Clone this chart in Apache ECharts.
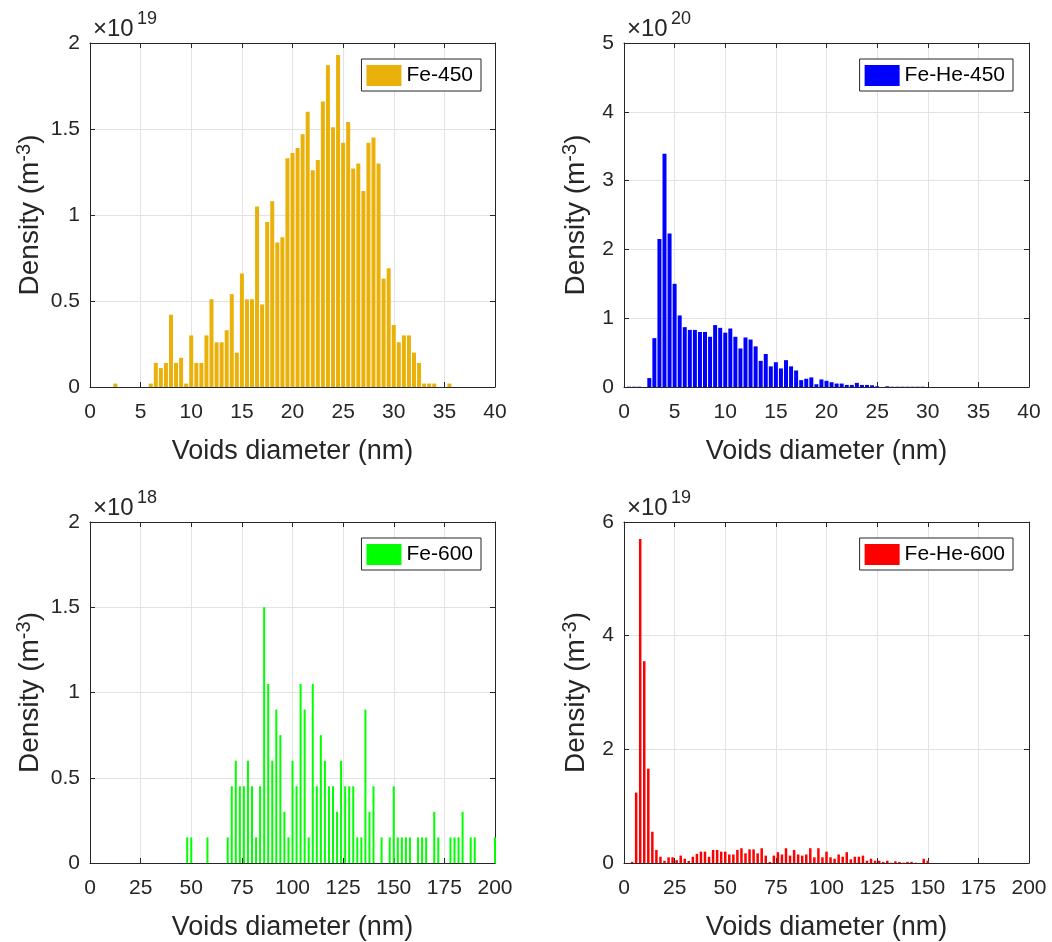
<!DOCTYPE html>
<html>
<head>
<meta charset="utf-8">
<script src="https://cdn.jsdelivr.net/npm/echarts@6/dist/echarts.min.js"></script>
<style>
html,body{margin:0;padding:0;background:#fff;}
#chart{width:1052px;height:942px;}
</style>
</head>
<body>
<div id="chart"></div>
<script>
// ---- Data (densities shown in the axis multiplier units) ----
const fe450X = [2.5, 6, 6.5, 7, 7.5, 8, 8.5, 9, 9.5, 10, 10.5, 11, 11.5, 12, 12.5, 13, 13.5, 14, 14.5, 15, 15.5, 16, 16.5, 17, 17.5, 18, 18.5, 19, 19.5, 20, 20.5, 21, 21.5, 22, 22.5, 23, 23.5, 24, 24.5, 25, 25.5, 26, 26.5, 27, 27.5, 28, 28.5, 29, 29.5, 30, 30.5, 31, 31.5, 32, 32.5, 33, 33.5, 34, 35.5];
const fe450Y = [0.02, 0.02, 0.14, 0.11, 0.14, 0.42, 0.14, 0.17, 0.02, 0.30, 0.14, 0.14, 0.30, 0.51, 0.26, 0.26, 0.33, 0.54, 0.20, 0.66, 0.51, 0.51, 1.05, 0.48, 0.96, 1.08, 0.84, 0.87, 1.33, 1.36, 1.39, 1.47, 1.60, 1.26, 1.32, 1.66, 1.87, 1.51, 1.93, 1.42, 1.54, 1.27, 1.30, 1.14, 1.42, 1.45, 1.30, 0.63, 0.69, 0.36, 0.26, 0.30, 0.30, 0.20, 0.14, 0.02, 0.02, 0.02, 0.02];

const feHe450X = [0.5, 1, 1.5, 2.5, 3, 3.5, 4, 4.5, 5, 5.5, 6, 6.5, 7, 7.5, 8, 8.5, 9, 9.5, 10, 10.5, 11, 11.5, 12, 12.5, 13, 13.5, 14, 14.5, 15, 15.5, 16, 16.5, 17, 17.5, 18, 18.5, 19, 19.5, 20, 20.5, 21, 21.5, 22, 22.5, 23, 23.5, 24, 24.5, 25, 26, 26.5, 27, 27.5, 28, 28.5, 29, 29.5];
const feHe450Y = [0.004, 0.004, 0.004, 0.13, 0.71, 2.15, 3.39, 2.23, 1.50, 1.04, 0.87, 0.83, 0.83, 0.80, 0.80, 0.73, 0.90, 0.86, 0.79, 0.85, 0.73, 0.56, 0.72, 0.69, 0.59, 0.38, 0.48, 0.30, 0.36, 0.27, 0.39, 0.30, 0.24, 0.10, 0.12, 0.14, 0.04, 0.11, 0.09, 0.07, 0.05, 0.05, 0.03, 0.03, 0.06, 0.03, 0.03, 0.025, 0.01, 0.01, 0.004, 0.004, 0.004, 0.004, 0.004, 0.004, 0.004];

const fe600X = [48, 50, 58, 68, 70, 72, 74, 76, 78, 80, 82, 84, 86, 88, 90, 92, 94, 96, 98, 100, 102, 104, 106, 108, 110, 112, 114, 116, 118, 120, 122, 124, 126, 128, 130, 132, 134, 136, 138, 140, 144, 148, 150, 152, 154, 156, 158, 162, 164, 166, 170, 172, 178, 180, 182, 184, 188, 190, 200];
const fe600Y = [0.15, 0.15, 0.15, 0.15, 0.45, 0.6, 0.45, 0.45, 0.6, 0.45, 0.15, 0.45, 1.5, 1.05, 0.6, 0.9, 0.75, 0.3, 0.15, 0.6, 0.45, 1.05, 0.9, 0.15, 1.05, 0.45, 0.75, 0.6, 0.45, 0.45, 0.3, 0.6, 0.45, 0.45, 0.45, 0.15, 0.15, 0.9, 0.3, 0.45, 0.15, 0.15, 0.45, 0.15, 0.15, 0.15, 0.15, 0.15, 0.15, 0.15, 0.3, 0.15, 0.15, 0.15, 0.15, 0.3, 0.15, 0.15, 0.15];

const feHe600X = [4, 6, 8, 10, 12, 14, 16, 18, 20, 22, 24, 26, 28, 30, 32, 34, 36, 38, 40, 42, 44, 46, 48, 50, 52, 54, 56, 58, 60, 62, 64, 66, 68, 70, 72, 74, 76, 78, 80, 82, 84, 86, 88, 90, 92, 94, 96, 98, 100, 102, 104, 106, 108, 110, 112, 114, 116, 118, 120, 122, 124, 126, 128, 130, 132, 134, 136, 138, 140, 142, 144, 148, 150];
const feHe600Y = [0.02, 1.24, 5.70, 3.55, 1.66, 0.55, 0.23, 0.11, 0.04, 0.10, 0.10, 0.05, 0.13, 0.075, 0.035, 0.11, 0.16, 0.20, 0.20, 0.11, 0.23, 0.23, 0.20, 0.20, 0.15, 0.15, 0.23, 0.26, 0.17, 0.24, 0.24, 0.17, 0.26, 0.13, 0.02, 0.13, 0.19, 0.15, 0.26, 0.13, 0.23, 0.15, 0.13, 0.15, 0.26, 0.10, 0.26, 0.10, 0.20, 0.10, 0.075, 0.15, 0.11, 0.19, 0.065, 0.11, 0.11, 0.13, 0.04, 0.075, 0.04, 0.04, 0.02, 0.04, 0.005, 0.03, 0.02, 0.005, 0.02, 0.02, 0.005, 0.075, 0.04];

const seriesNames = ['Fe-450', 'Fe-He-450', 'Fe-600', 'Fe-He-600'];
const exponents = ['19', '20', '18', '19'];
const xTitle = 'Voids diameter (nm)';
const xRanges = [[0, 40, 5], [0, 40, 5], [0, 200, 25], [0, 200, 25]];
const yRanges = [[0, 2, 0.5], [0, 5, 1], [0, 2, 0.5], [0, 6, 2]];

// ---- Styling / layout ----
const FONT = "'Liberation Sans', Arial, Helvetica, sans-serif";
const INK = '#262626';
const colors = ['#E9B10A', '#0000FF', '#00FF00', '#FF0000'];
const grids = [
  {left: 90, top: 43, width: 405, height: 344},
  {left: 624, top: 43, width: 405, height: 344},
  {left: 90, top: 522, width: 405, height: 343},
  {left: 624, top: 522, width: 405, height: 343}
];
const barWidths = [4, 4, 2, 2.5];
const yNameGaps = [43, 31, 43, 31];

const datasets = [
  [fe450X, fe450Y], [feHe450X, feHe450Y], [fe600X, fe600Y], [feHe600X, feHe600Y]
];

const xAxes = [], yAxes = [], series = [], legends = [], graphics = [];
grids.forEach((g, i) => {
  const [xmin, xmax, xint] = xRanges[i];
  const [ymin, ymax, yint] = yRanges[i];
  const lineStyle = {color: INK, width: 1};
  xAxes.push({
    gridIndex: i, type: 'value', position: 'bottom', min: xmin, max: xmax, interval: xint,
    axisLine: {show: true, onZero: false, lineStyle},
    axisTick: {show: true, inside: true, length: 5, lineStyle},
    axisLabel: {fontSize: 21, color: INK, fontFamily: FONT, margin: 15},
    splitLine: {show: true, lineStyle: {color: '#e3e3e3', width: 1}},
    name: xTitle, nameLocation: 'middle', nameGap: 51,
    nameTextStyle: {fontSize: 27, color: INK, fontFamily: FONT}
  });
  xAxes.push({
    gridIndex: i, type: 'value', position: 'top', min: xmin, max: xmax, interval: xint,
    axisLine: {show: true, onZero: false, lineStyle},
    axisTick: {show: true, inside: true, length: 5, lineStyle},
    axisLabel: {show: false}, splitLine: {show: false}
  });
  yAxes.push({
    gridIndex: i, type: 'value', position: 'left', min: ymin, max: ymax, interval: yint,
    axisLine: {show: true, onZero: false, lineStyle},
    axisTick: {show: true, inside: true, length: 5, lineStyle},
    axisLabel: {fontSize: 21, color: INK, fontFamily: FONT, margin: 10},
    splitLine: {show: true, lineStyle: {color: '#e3e3e3', width: 1}},
    name: 'Density (m{sup|-3})', nameLocation: 'middle', nameGap: yNameGaps[i], nameRotate: 90,
    nameTextStyle: {
      fontSize: 28, color: INK, fontFamily: FONT,
      rich: {sup: {fontSize: 20, color: INK, fontFamily: FONT, verticalAlign: 'top', lineHeight: 33}}
    }
  });
  yAxes.push({
    gridIndex: i, type: 'value', position: 'right', min: ymin, max: ymax, interval: yint,
    axisLine: {show: true, onZero: false, lineStyle},
    axisTick: {show: true, inside: true, length: 5, lineStyle},
    axisLabel: {show: false}, splitLine: {show: false}
  });
  const [xs, ys] = datasets[i];
  series.push({
    type: 'bar', name: seriesNames[i], xAxisIndex: 2 * i, yAxisIndex: 2 * i,
    data: xs.map((x, k) => [x, ys[k]]),
    barWidth: barWidths[i], itemStyle: {color: colors[i]}, clip: true
  });
  const right = (i % 2 === 0) ? 1052 - 481 : 1052 - 1013;
  legends.push({
    data: [seriesNames[i]], right: right, top: g.top + 16,
    orient: 'horizontal', icon: 'rect', itemWidth: 35, itemHeight: 21,
    padding: [6, 8, 5, 5], borderColor: INK, borderWidth: 1, backgroundColor: '#fff',
    textStyle: {fontSize: 21, color: '#000', fontFamily: FONT}, selectedMode: false
  });
  graphics.push({
    type: 'text', x: g.left + 3, y: g.top - 14,
    style: {text: '×10', fontSize: 24, fontFamily: FONT, fill: INK, verticalAlign: 'middle', align: 'left'}
  });
  graphics.push({
    type: 'text', x: g.left + 47, y: g.top - 24,
    style: {text: exponents[i], fontSize: 18, fontFamily: FONT, fill: INK, verticalAlign: 'middle', align: 'left'}
  });
});

const chart = echarts.init(document.getElementById('chart'), null, {renderer: 'canvas'});
chart.setOption({
  backgroundColor: '#fff',
  animation: false,
  grid: grids.map(g => Object.assign({containLabel: false}, g)),
  xAxis: xAxes,
  yAxis: yAxes,
  series: series,
  legend: legends,
  graphic: graphics
});
</script>
</body>
</html>
